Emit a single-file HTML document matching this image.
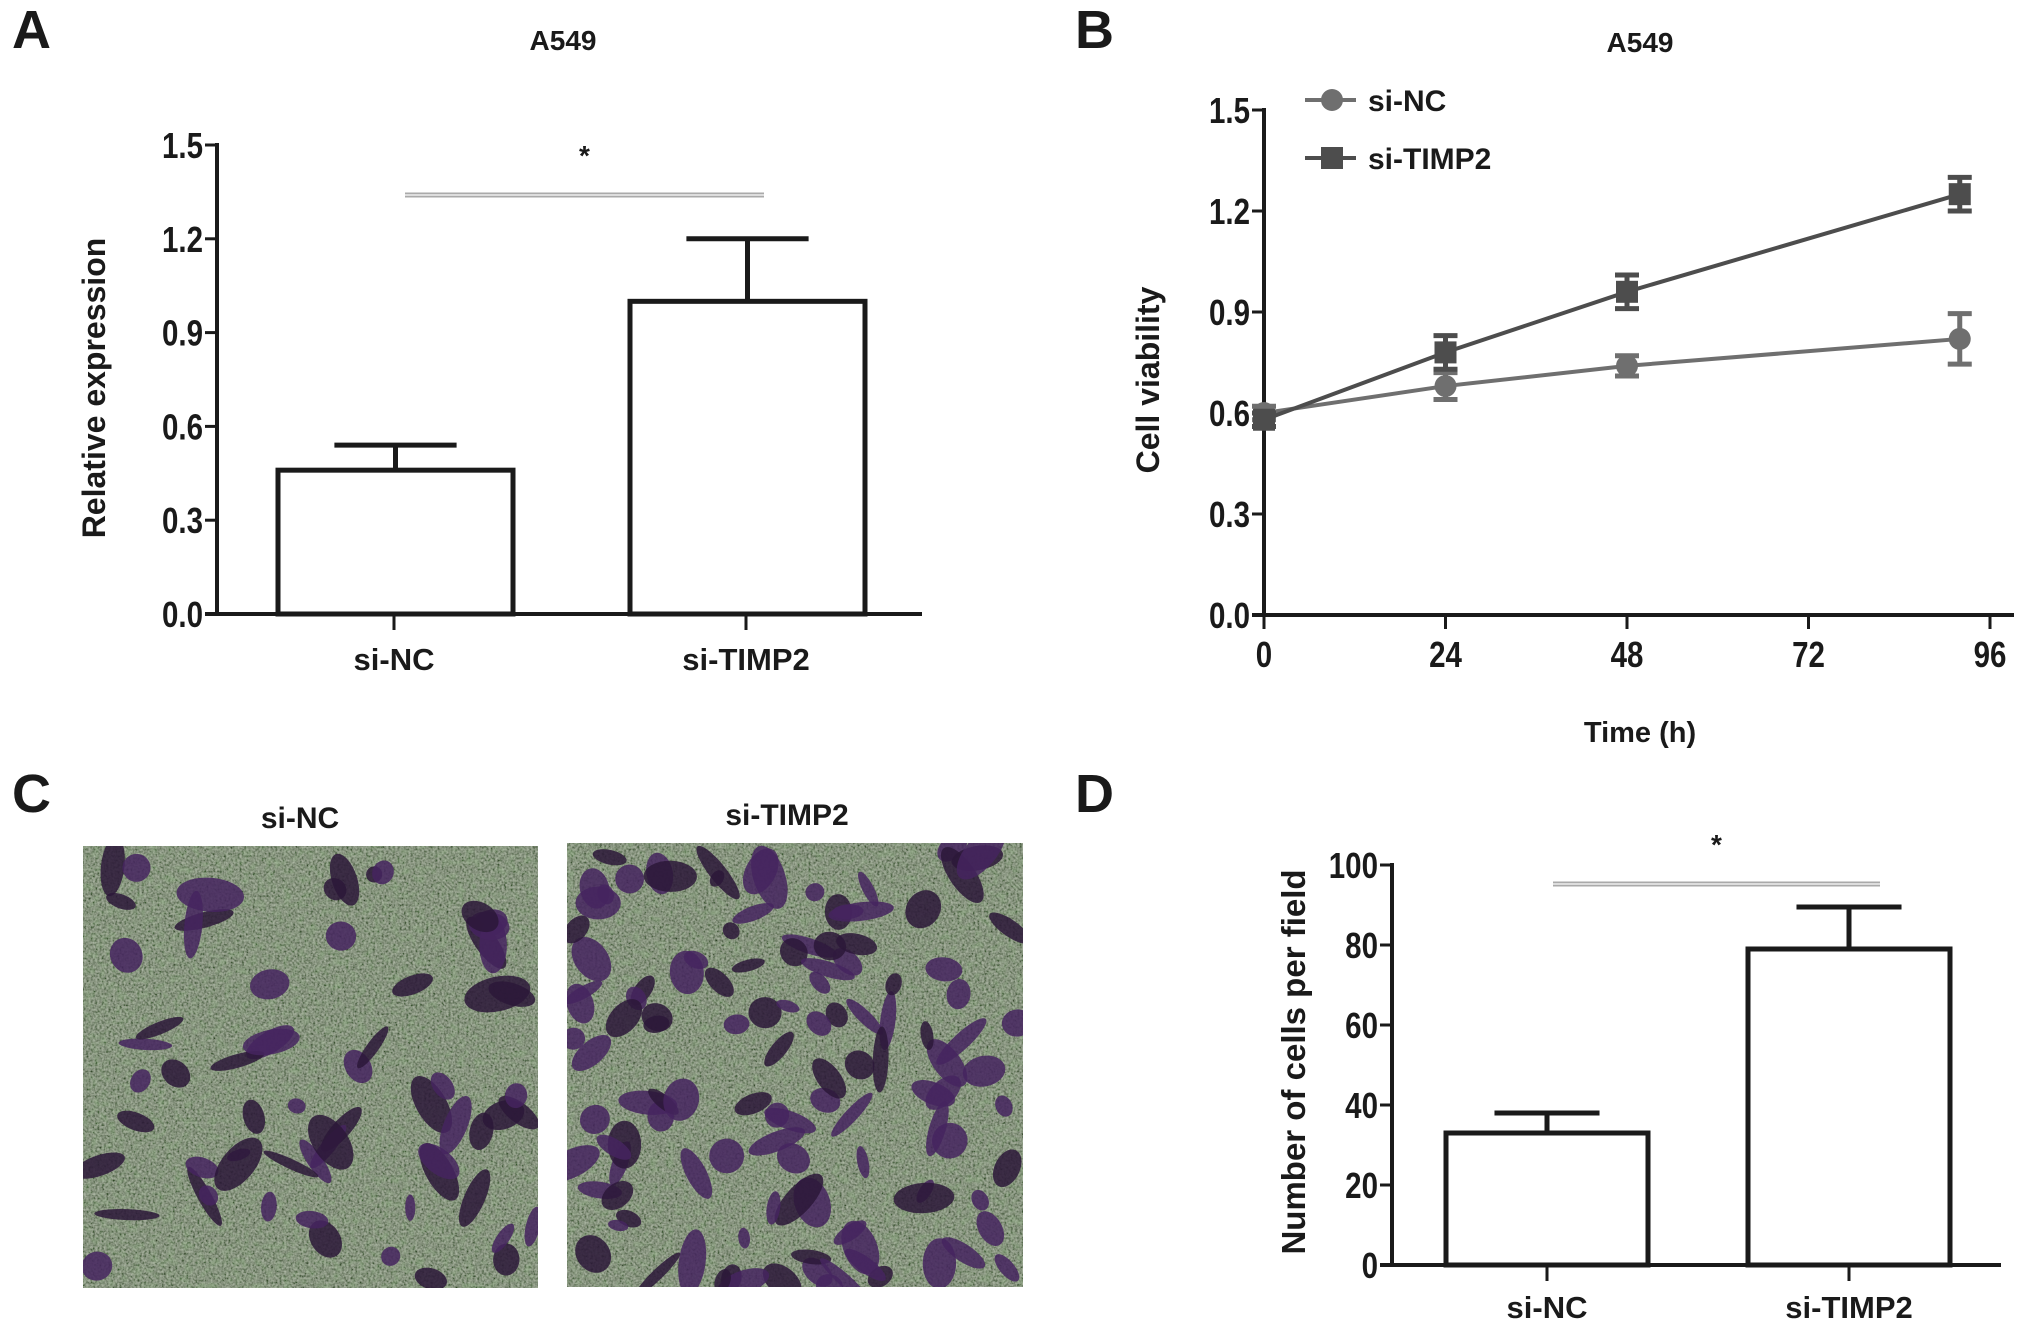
<!DOCTYPE html>
<html><head><meta charset="utf-8"><style>
html,body{margin:0;padding:0;background:#fff;}
svg{display:block;font-family:"Liberation Sans",Arial,sans-serif;font-weight:bold;}
</style></head><body>
<svg id="fig" width="2031" height="1327" viewBox="0 0 2031 1327" xmlns="http://www.w3.org/2000/svg">
<defs>
<filter id="noise" x="0" y="0" width="100%" height="100%">
<feTurbulence type="fractalNoise" baseFrequency="0.45" numOctaves="2" seed="3" result="t"/>
<feColorMatrix type="matrix" values="1.2 0 0 0 -0.25  1.2 0 0 0 -0.2  1.2 0 0 0 -0.25  0 0 0 0 1"/>
</filter>
<filter id="noise2" x="0" y="0" width="100%" height="100%">
<feTurbulence type="fractalNoise" baseFrequency="0.12" numOctaves="2" seed="9"/>
<feColorMatrix type="matrix" values="0 0 0 0 0.25  0 0 0 0 0.45  0 0 0 0 0.2  0 1.6 0 0 -0.7"/>
</filter>
<clipPath id="clip1"><rect x="83" y="846" width="455" height="442"/></clipPath>
<clipPath id="clip2"><rect x="567" y="843" width="456" height="444"/></clipPath>
</defs>
<g id="root"></g>
</svg>
<script>
// ---- Panel A data ----
const aCategories = ["si-NC","si-TIMP2"];
const aValues = [0.46, 1.0];
const aErrors = [0.08, 0.2];
const aTicks = ["0.0","0.3","0.6","0.9","1.2","1.5"];
// ---- Panel B data ----
const bHours = [0, 24, 48, 92];
const bNC = [0.60, 0.68, 0.74, 0.82];
const bNCErr = [0.02, 0.04, 0.03, 0.075];
const bTIMP2 = [0.58, 0.78, 0.96, 1.25];
const bTIMP2Err = [0.02, 0.05, 0.05, 0.05];
const bYTicks = ["0.0","0.3","0.6","0.9","1.2","1.5"];
const bXTicks = ["0","24","48","72","96"];
// ---- Panel D data ----
const dCategories = ["si-NC","si-TIMP2"];
const dValues = [33, 79];
const dErrors = [5, 10.5];
const dTicks = ["0","20","40","60","80","100"];

const NS="http://www.w3.org/2000/svg";
const root=document.getElementById('root');
function el(tag,attrs,parent,txt){const e=document.createElementNS(NS,tag);for(const k in attrs)e.setAttribute(k,attrs[k]);if(txt!==undefined)e.textContent=txt;(parent||root).appendChild(e);return e;}
function txt(x,y,s,size,anchor,name,parent,extra){
  const t=el('text',Object.assign({x:x,y:y,'font-size':size,'text-anchor':anchor||'middle',fill:'#1a1a1a'},extra||{}),parent,s);
  
  
  return t;
}
function ctext(x,y,s,size,anchor,name,parent){
  return txt(x,y,s,size,anchor,name,parent,{transform:`translate(${x},0) scale(0.82,1) translate(${-x},0)`});
}

txt(12,48,"A",54,'start','panel-label-a');
txt(1075,48,"B",54,'start','panel-label-b');
txt(12,812,"C",54,'start','panel-label-c');
txt(1075,812,"D",54,'start','panel-label-d');
txt(563,50,"A549",28,'middle','title-a');
txt(1640,52,"A549",28,'middle','title-b');

function barChart(cfg){
  const g=el('g',{});
  
  
  const y=v=>cfg.y0-(v/cfg.max)*(cfg.y0-cfg.yTop);
  el('line',{x1:cfg.ax,y1:cfg.yTop-2,x2:cfg.ax,y2:cfg.y0,stroke:'#1a1a1a','stroke-width':4},g);
  el('line',{x1:cfg.ax-12,y1:cfg.y0,x2:cfg.axEnd,y2:cfg.y0,stroke:'#1a1a1a','stroke-width':4},g);
  cfg.ticks.forEach((t,i)=>{
    const v=cfg.max*i/(cfg.ticks.length-1);
    const tk=el('line',{x1:cfg.ax-12,y1:y(v),x2:cfg.ax,y2:y(v),stroke:'#1a1a1a','stroke-width':3},g);
    
    
    ctext(cfg.ax-14,y(v)+13,t,36,'end','y-tick-label',g);
  });
  cfg.values.forEach((v,i)=>{
    const x0=cfg.barX[i], w=cfg.barW;
    const cx=x0+w/2;
    const eb=el('path',{d:`M${cx} ${y(v)} V${y(v+cfg.errors[i])} M${cx-w*0.26} ${y(v+cfg.errors[i])} H${cx+w*0.26}`,stroke:'#1a1a1a','stroke-width':5,fill:'none'},g);
    
    
    const r=el('rect',{x:x0,y:y(v),width:w,height:cfg.y0-y(v),fill:'#fff',stroke:'#1a1a1a','stroke-width':5},g);
    
    
    el('line',{x1:cfg.tickX[i],y1:cfg.y0,x2:cfg.tickX[i],y2:cfg.y0+16,stroke:'#1a1a1a','stroke-width':3},g);
    txt(cfg.tickX[i],cfg.labelY,cfg.cats[i],31,'middle','x-label-'+cfg.cats[i],g);
  });
  const s=el('line',{x1:cfg.sig[0],y1:cfg.sig[2],x2:cfg.sig[1],y2:cfg.sig[2],stroke:'#aaa','stroke-width':5},g);
  
  
  el('line',{x1:cfg.sig[0],y1:cfg.sig[2],x2:cfg.sig[1],y2:cfg.sig[2],stroke:'#ddd','stroke-width':2},g);
  txt((cfg.sig[0]+cfg.sig[1])/2,cfg.sig[2]-30,"*",28,'middle','significance-star',g);
  txt(0,0,cfg.ylabel,cfg.ylabelSize,'middle','y-axis-title',g,{transform:`translate(${cfg.ylx},${cfg.yly}) rotate(-90)`});
}

barChart({name:'chart-a',ax:217,axEnd:922,y0:614,yTop:145,max:1.5,ticks:aTicks,values:aValues,errors:aErrors,cats:aCategories,
  barX:[278,630],barW:235,tickX:[394,746],labelY:670,sig:[405,764,195],ylabel:"Relative expression",ylabelSize:32,ylx:105,yly:388});
barChart({name:'chart-d',ax:1392,axEnd:2001,y0:1265,yTop:865,max:100,ticks:dTicks,values:dValues,errors:dErrors,cats:dCategories,
  barX:[1446,1748],barW:202,tickX:[1547,1849],labelY:1318,sig:[1553,1880,884],ylabel:"Number of cells  per field",ylabelSize:33,ylx:1305,yly:1062});

(function(){
  const g=el('g',{});
  
  
  const ax=1264,y0=615,yTop=110,xEnd=1990;
  const x=h=>ax+(h/96)*(xEnd-ax);
  const y=v=>y0-(v/1.5)*(y0-yTop);
  el('line',{x1:ax,y1:yTop-2,x2:ax,y2:y0,stroke:'#1a1a1a','stroke-width':4},g);
  el('line',{x1:ax-12,y1:y0,x2:2014,y2:y0,stroke:'#1a1a1a','stroke-width':4},g);
  bYTicks.forEach((t,i)=>{
    const v=1.5*i/(bYTicks.length-1);
    el('line',{x1:ax-12,y1:y(v),x2:ax,y2:y(v),stroke:'#1a1a1a','stroke-width':3},g);
    ctext(ax-14,y(v)+13,t,36,'end','y-tick-label',g);
  });
  bXTicks.forEach(t=>{
    const h=+t;
    el('line',{x1:x(h),y1:y0,x2:x(h),y2:y0+14,stroke:'#1a1a1a','stroke-width':3},g);
    ctext(x(h),y0+52,t,36,'middle','x-tick-label',g);
  });
  txt(1640,742,"Time (h)",29,'middle','x-axis-title',g);
  txt(0,0,"Cell viability",32,'middle','y-axis-title',g,{transform:`translate(1159,380) rotate(-90)`});
  function series(vals,errs,color,shape,name){
    const sg=el('g',{},g);
    
    
    const pts=bHours.map((h,i)=>x(h)+','+y(vals[i])).join(' ');
    el('polyline',{points:pts,fill:'none',stroke:color,'stroke-width':4},sg);
    bHours.forEach((h,i)=>{
      const cx=x(h),cy=y(vals[i]),e=errs[i];
      el('path',{d:`M${cx} ${y(vals[i]-e)} V${y(vals[i]+e)} M${cx-12} ${y(vals[i]-e)} H${cx+12} M${cx-12} ${y(vals[i]+e)} H${cx+12}`,stroke:color,'stroke-width':5,fill:'none'},sg);
      let m;
      if(shape==='circle') m=el('circle',{cx:cx,cy:cy,r:11,fill:color},sg);
      else m=el('rect',{x:cx-11,y:cy-11,width:22,height:22,fill:color},sg);
      
      
    });
  }
  series(bNC,bNCErr,'#6f6f6f','circle','series-si-nc');
  series(bTIMP2,bTIMP2Err,'#4d4d4d','square','series-si-timp2');
  const lg=el('g',{},g);
  
  
  el('line',{x1:1305,y1:100,x2:1356,y2:100,stroke:'#6f6f6f','stroke-width':4},lg);
  el('circle',{cx:1332,cy:100,r:11,fill:'#6f6f6f'},lg);
  txt(1368,111,"si-NC",30,'start','legend-entry-si-nc',lg);
  el('line',{x1:1305,y1:158,x2:1356,y2:158,stroke:'#4d4d4d','stroke-width':4},lg);
  el('rect',{x:1321,y:147,width:22,height:22,fill:'#4d4d4d'},lg);
  txt(1368,169,"si-TIMP2",30,'start','legend-entry-si-timp2',lg);
})();

function micro(x0,y0,w,h,n,seed,name,label,lx,clip){
  const g=el('g',{'clip-path':`url(#${clip})`});
  
  
  el('rect',{x:x0,y:y0,width:w,height:h,fill:'#6b7a58'},g);
  el('rect',{x:x0,y:y0,width:w,height:h,filter:'url(#noise)',opacity:0.55},g);
  el('rect',{x:x0,y:y0,width:w,height:h,filter:'url(#noise2)',opacity:0.5},g);
  let s=seed;const rnd=()=>{s=(s*16807)%2147483647;return s/2147483647;};
  const bg=el('g',{},g);
  for(let i=0;i<n;i++){
    const cx=x0+rnd()*w,cy=y0+rnd()*h;
    const rx=8+rnd()*26,ry=5+rnd()*13,a=rnd()*180;
    el('ellipse',{cx:cx,cy:cy,rx:rx,ry:ry,transform:`rotate(${a} ${cx} ${cy})`,fill:rnd()<0.35?'#2c1838':'#45245f',opacity:0.85},bg);
  }
  txt(lx,y0-18,label,30,'middle','image-label-'+label);
}
micro(83,846,455,442,65,12345,'micrograph-si-nc','si-NC',300,'clip1');
micro(567,843,456,444,120,67891,'micrograph-si-timp2','si-TIMP2',787,'clip2');
</script>
</body></html>
